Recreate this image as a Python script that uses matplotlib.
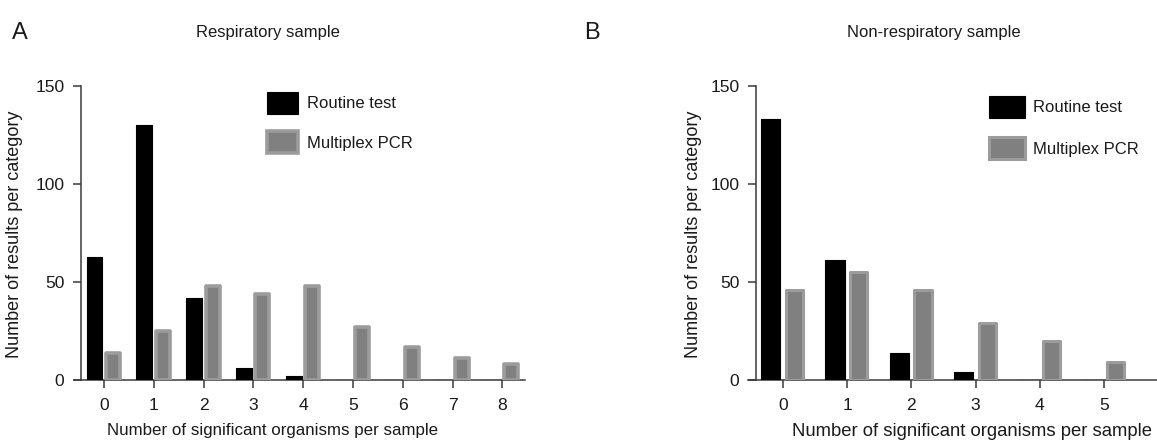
import matplotlib
matplotlib.use("Agg")
import matplotlib.pyplot as plt
import numpy as np

plt.rcParams['font.family'] = ['Liberation Sans', 'DejaVu Sans']

# ---- data ----
categories_a = [0, 1, 2, 3, 4, 5, 6, 7, 8]
routine_a = [63, 130, 42, 6, 2, 0, 0, 0, 0]
multiplex_a = [14, 25, 48, 44, 48, 27, 17, 11, 8]

categories_b = [0, 1, 2, 3, 4, 5]
routine_b = [133, 61, 14, 4, 0, 0]
multiplex_b = [46, 55, 46, 29, 20, 9]

yticks = [0, 50, 100, 150]
labels = ["Routine test", "Multiplex PCR"]
titles = ["Respiratory sample", "Non-respiratory sample"]
panel_letters = ["A", "B"]
xlabel = "Number of significant organisms per sample"
ylabel = "Number of results per category"

W, H = 1157, 441
fig = plt.figure(figsize=(W / 100, H / 100), dpi=100)

SPINE = '#3a3a3a'
TXT = '#1a1a1a'
GRAY_EDGE = '#9c9c9c'
GRAY_FACE = '#808080'


def px(x, y):
    return x / W, 1 - y / H


def make_panel(rect, cats, rout, mult, xlim, spine_x, bw, gw, edge_lw):
    ax = fig.add_axes(rect)
    x = np.array(cats, dtype=float)
    b1 = ax.bar(x - 0.19, rout, width=bw, color='black', edgecolor='black',
                linewidth=0.8, joinstyle='round', label=labels[0], zorder=3)
    b2 = ax.bar(x + 0.18, mult, width=gw, color=GRAY_FACE, edgecolor=GRAY_EDGE,
                linewidth=edge_lw, joinstyle='round', label=labels[1], zorder=3)
    ax.set_xlim(*xlim)
    ax.set_ylim(0, 150)
    for s in ['top', 'right']:
        ax.spines[s].set_visible(False)
    ax.spines['left'].set_position(('data', spine_x))
    ax.spines['left'].set_bounds(0, 150)
    for s in ['left', 'bottom']:
        ax.spines[s].set_color(SPINE)
        ax.spines[s].set_linewidth(1.1)
    ax.set_xticks(cats)
    ax.set_yticks(yticks)
    ax.tick_params(axis='both', direction='out', length=6, width=1.1,
                   color=SPINE, labelcolor=TXT, labelsize=12.6, pad=6)
    ax.tick_params(axis='x', pad=7)
    for sp in ax.spines.values():
        sp.set_clip_on(False)
    return ax, b1, b2


# Panel A
axA, a1, a2 = make_panel([74 / W, 1 - 380 / H, (525 - 74) / W, (380 - 86) / H],
                         categories_a, routine_a, multiplex_a,
                         (-0.602, 8.454), -0.462, 0.32, 0.28, 2.6)
# Panel B
axB, b1, b2 = make_panel([748 / W, 1 - 380 / H, (1157 - 748) / W, (380 - 86) / H],
                         categories_b, routine_b, multiplex_b,
                         (-0.545, 5.825), -0.42, 0.30, 0.27, 2.2)

# legends
legA = axA.legend(handles=[a1, a2], labels=labels, loc='upper left',
                  bbox_to_anchor=px(267, 92), bbox_transform=fig.transFigure,
                  frameon=False, fontsize=12, handlelength=1.85, handleheight=1.65,
                  handletextpad=0.55, labelspacing=1.05, borderpad=0, borderaxespad=0)
legB = axB.legend(handles=[b1, b2], labels=labels, loc='upper left',
                  bbox_to_anchor=px(989, 96), bbox_transform=fig.transFigure,
                  frameon=False, fontsize=12, handlelength=2.15, handleheight=1.65,
                  handletextpad=0.5, labelspacing=1.17, borderpad=0, borderaxespad=0)
for leg in (legA, legB):
    for t in leg.get_texts():
        t.set_color(TXT)

# titles, letters, labels
fig.text(*px(268, 32), titles[0], ha='center', va='center', fontsize=12, color=TXT)
fig.text(*px(934, 32), titles[1], ha='center', va='center', fontsize=12, color=TXT)
fig.text(*px(12, 33), panel_letters[0], ha='left', va='center', fontsize=17, color=TXT)
fig.text(*px(584, 33), panel_letters[1], ha='left', va='center', fontsize=17, color=TXT)
fig.text(*px(15, 234), ylabel, rotation=90, ha='center', va='center', fontsize=13, color=TXT)
fig.text(*px(693, 234), ylabel, rotation=90, ha='center', va='center', fontsize=13, color=TXT)
fig.text(*px(273, 431), xlabel, ha='center', va='center', fontsize=12.2, color=TXT)
fig.text(*px(792, 431), xlabel, ha='left', va='center', fontsize=13.3, color=TXT)

fig.savefig("out.png", dpi=100)
